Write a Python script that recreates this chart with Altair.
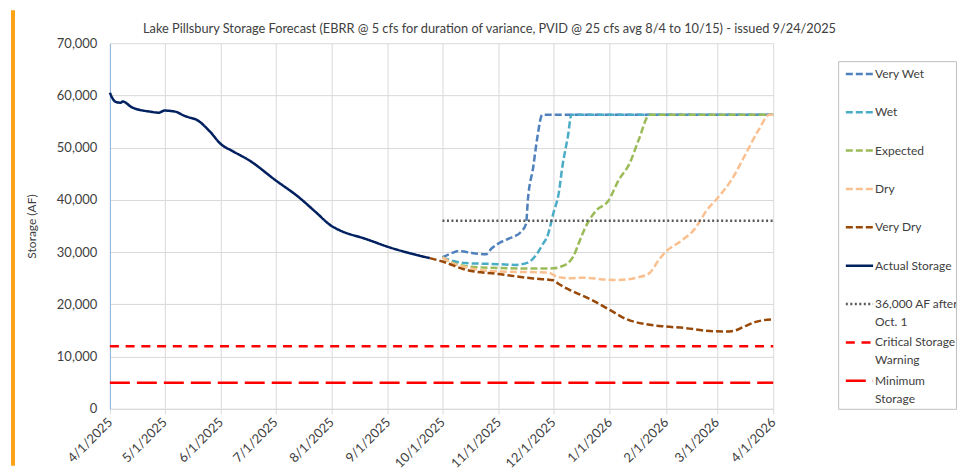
import altair as alt
import pandas as pd

FONT = "Lato"
TITLE = "Lake Pillsbury Storage Forecast (EBRR @ 5 cfs for duration of variance, PVID @ 25 cfs avg 8/4 to 10/15) - issued 9/24/2025"

# ---------------- data ----------------
series_names = ["Very Wet", "Wet", "Expected", "Dry", "Very Dry", "Actual Storage",
                "36,000 AF after Oct. 1", "Critical Storage Warning", "Minimum Storage"]
legend_line1 = ["Very Wet", "Wet", "Expected", "Dry", "Very Dry", "Actual Storage",
                "36,000 AF after", "Critical Storage", "Minimum"]
legend_line2 = ["", "", "", "", "", "", "Oct. 1", "Warning", "Storage"]
series_colors = ["#4f81bd", "#4bacc6", "#9bbb59", "#fac090", "#984807", "#002060",
                 "#595959", "#ff0000", "#ff0000"]
series_dashes = [[7, 3], [7, 3], [7, 3], [7, 3], [7, 3], [1, 0], [2, 2.5], [9, 6.75], [20, 7]]
series_widths = [2.5, 2.5, 2.5, 2.5, 2.5, 3, 2, 2.5, 3]

actual_dates = ["2025-04-01", "2025-04-04", "2025-04-07", "2025-04-08", "2025-04-13", "2025-04-23",
                "2025-04-28", "2025-05-01", "2025-05-07", "2025-05-12", "2025-05-16", "2025-05-18",
                "2025-05-26", "2025-06-01", "2025-06-08", "2025-06-17", "2025-07-01", "2025-07-14",
                "2025-07-23", "2025-08-01", "2025-08-05", "2025-08-20", "2025-09-02", "2025-09-13",
                "2025-09-24"]
actual_vals = [60500, 58800, 58600, 58850, 57750, 56900, 56700, 57100, 56900, 56100, 55650, 55450,
               53100, 50700, 49250, 47500, 43800, 40500, 37750, 35000, 34250, 32500, 30900, 29800,
               28850]

very_wet_dates = ["2025-10-01", "2025-10-06", "2025-10-10", "2025-10-18", "2025-10-25", "2025-10-28",
                  "2025-11-01", "2025-11-08", "2025-11-13", "2025-11-16", "2025-11-17", "2025-11-20",
                  "2025-11-22", "2025-11-25", "2026-04-01"]
very_wet_vals = [29000, 29800, 30200, 29800, 29600, 30700, 31700, 32800, 33800, 35400, 40000, 46400,
                 51500, 56300, 56300]

wet_dates = ["2025-10-01", "2025-10-07", "2025-10-14", "2025-11-01", "2025-11-10", "2025-11-17",
             "2025-11-21", "2025-11-25", "2025-11-28", "2025-12-01", "2025-12-04", "2025-12-06",
             "2025-12-09", "2025-12-11", "2026-04-01"]
wet_vals = [29000, 28300, 27900, 27700, 27550, 28000, 29200, 31400, 33300, 37400, 41300, 46400,
            52100, 56300, 56300]

expected_dates = ["2025-10-01", "2025-10-07", "2025-10-14", "2025-11-01", "2025-11-19", "2025-12-01",
                  "2025-12-05", "2025-12-10", "2025-12-12", "2025-12-15", "2025-12-18", "2025-12-22",
                  "2025-12-25", "2025-12-31", "2026-01-06", "2026-01-12", "2026-01-17", "2026-01-23",
                  "2026-04-01"]
expected_vals = [29000, 27900, 27300, 26950, 26850, 26900, 27200, 28200, 29150, 31700, 34250, 36800,
                 38100, 39700, 43800, 47000, 51500, 56300, 56300]

dry_dates = ["2025-10-01", "2025-10-07", "2025-10-14", "2025-11-01", "2025-11-28", "2025-12-03",
             "2025-12-10", "2025-12-17", "2026-01-04", "2026-01-17", "2026-01-23", "2026-01-28",
             "2026-02-01", "2026-02-10", "2026-02-17", "2026-02-23", "2026-03-02", "2026-03-09",
             "2026-03-17", "2026-03-24", "2026-03-30", "2026-04-01"]
dry_vals = [29000, 27800, 27100, 26300, 26100, 25300, 25000, 25100, 24650, 25200, 26000, 28500,
            30100, 32300, 34500, 37800, 40600, 43800, 48900, 53400, 56300, 56300]

very_dry_dates = ["2025-09-24", "2025-10-01", "2025-10-14", "2025-11-01", "2025-11-19", "2025-12-01",
                  "2025-12-04", "2025-12-08", "2025-12-12", "2025-12-22", "2026-01-01", "2026-01-10",
                  "2026-01-21", "2026-02-01", "2026-02-12", "2026-02-23", "2026-03-06", "2026-03-11",
                  "2026-03-16", "2026-03-23", "2026-04-01"]
very_dry_vals = [28850, 28200, 26600, 25800, 25000, 24600, 23900, 23100, 22450, 20860, 18950, 17200,
                 16200, 15750, 15450, 14950, 14800, 15000, 15750, 16700, 17150]

target_dates = ["2025-10-01", "2026-04-01"]
target_vals = [36000, 36000]
critical_dates = ["2025-04-01", "2026-04-01"]
critical_vals = [12000, 12000]
minimum_dates = ["2025-04-01", "2026-04-01"]
minimum_vals = [5000, 5000]

y_ticks = [0, 10000, 20000, 30000, 40000, 50000, 60000, 70000]
x_tick_months = [(2025, m) for m in range(4, 13)] + [(2026, m) for m in range(1, 5)]

# ---------------- tables ----------------
series_data = [
    (very_wet_dates, very_wet_vals), (wet_dates, wet_vals), (expected_dates, expected_vals),
    (dry_dates, dry_vals), (very_dry_dates, very_dry_vals), (actual_dates, actual_vals),
    (target_dates, target_vals), (critical_dates, critical_vals), (minimum_dates, minimum_vals),
]
frames = []
for name, (d, v) in zip(series_names, series_data):
    frames.append(pd.DataFrame({"series": name, "date": [s + "T00:00:00" for s in d], "value": v}))
df = pd.concat(frames, ignore_index=True)

legend_df = pd.DataFrame({"series": series_names, "row": list(range(len(series_names))),
                          "line1": legend_line1, "line2": legend_line2})

color_scale = alt.Scale(domain=series_names, range=series_colors)
dash_scale = alt.Scale(domain=series_names, range=series_dashes)
width_scale = alt.Scale(domain=series_names, range=series_widths)

x_values = [alt.DateTime(year=y, month=m, date=1) for y, m in x_tick_months]

main = alt.Chart(df).mark_line(interpolate="monotone", strokeCap="butt", strokeJoin="round").encode(
    x=alt.X("date:T",
            scale=alt.Scale(domain=[alt.DateTime(year=2025, month=4, date=1),
                                    alt.DateTime(year=2026, month=4, date=1)]),
            axis=alt.Axis(values=x_values, format="%-m/%-d/%Y", formatType="time", labelAngle=-45,
                          labelAlign="right", labelBaseline="middle", labelFont=FONT, labelFontSize=13,
                          labelColor="#404040", labelPadding=6, labelOverlap=False, labelFlush=False,
                          grid=True, gridColor="#d9d9d9", domainColor="#d9d9d9", tickColor="#d9d9d9",
                          tickSize=5, title=None)),
    y=alt.Y("value:Q", scale=alt.Scale(domain=[0, 70000]),
            axis=alt.Axis(values=y_ticks, format=",d", labelFont=FONT, labelFontSize=13,
                          labelColor="#404040", labelPadding=13, ticks=False, grid=True,
                          gridColor="#d9d9d9", domainColor="#8eb4e3", title="Storage (AF)",
                          titleFont=FONT, titleFontSize=12, titleFontWeight="normal",
                          titleColor="#404040", titlePadding=18)),
    color=alt.Color("series:N", scale=color_scale, legend=None),
    strokeDash=alt.StrokeDash("series:N", scale=dash_scale, legend=None),
    strokeWidth=alt.StrokeWidth("series:N", scale=width_scale, legend=None),
).properties(
    width=664, height=366,
    title=alt.TitleParams(TITLE, font=FONT, fontSize=12.8, fontWeight="normal", color="#404040",
                          anchor="middle", frame="group", dx=48, offset=1),
    view=alt.ViewBackground(stroke=None),
)

# legend panel (drawn from the same series scales)
leg_base = alt.Chart(legend_df).encode(
    y=alt.Y("row:Q", scale=alt.Scale(domain=[8.731, -0.331], nice=False, zero=False), axis=None)
)
leg_sym = leg_base.mark_rule(strokeCap="butt").encode(
    x=alt.value(7.7), x2=alt.value(35),
    color=alt.Color("series:N", scale=color_scale, legend=None),
    strokeDash=alt.StrokeDash("series:N", scale=dash_scale, legend=None),
    strokeWidth=alt.StrokeWidth("series:N", scale=width_scale, legend=None),
)
leg_t1 = leg_base.mark_text(align="left", baseline="middle", font=FONT, fontSize=12, color="#404040",
                            clip=True).encode(x=alt.value(37), text="line1:N")
leg_t2 = leg_base.mark_text(align="left", baseline="middle", font=FONT, fontSize=12, color="#404040",
                            clip=True, dy=18).encode(x=alt.value(37), text="line2:N")
legend_box = alt.layer(leg_sym, leg_t1, leg_t2).properties(
    width=118, height=348,
    view=alt.ViewBackground(stroke="#bfbfbf", strokeWidth=1),
)
spacer = alt.Chart(pd.DataFrame({"v": [0]})).mark_rule(opacity=0).encode(
    x=alt.value(0), y=alt.value(0), y2=alt.value(1)
).properties(width=118, height=17, view=alt.ViewBackground(stroke=None))
legend = alt.vconcat(spacer, legend_box, spacing=0)

# orange page-edge bar at the left
bar = alt.Chart(pd.DataFrame({"v": [0]})).mark_rule(color="#ffa31a", strokeWidth=4).encode(
    x=alt.value(2), y=alt.value(-33), y2=alt.value(423)
).properties(width=4, height=366, view=alt.ViewBackground(stroke=None))

inner = alt.hconcat(main, legend, spacing=0)
chart = alt.hconcat(bar, inner, spacing=10).properties(
    padding={"left": 3, "top": 0, "right": 0, "bottom": 0}
).configure(background="white")

chart.save("out.html", embed_options={"renderer": "svg", "actions": False})
